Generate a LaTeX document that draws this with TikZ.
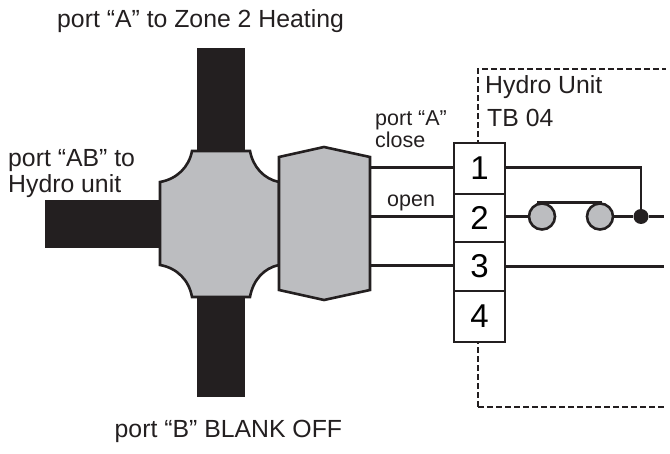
\documentclass[tikz,border=0pt]{standalone}
\usepackage{fontspec}
\setmainfont{Liberation Sans}
\definecolor{ink}{HTML}{231F20}
\definecolor{valve}{HTML}{BCBDC0}
\tikzset{
  arm/.style={fill=ink,draw=none},
  body/.style={fill=valve,draw=ink,line width=2.6pt,line join=miter},
  wire/.style={draw=ink,line width=2.8pt},
  frame/.style={draw=ink,line width=1.1pt,dash pattern=on 5.5pt off 3.5pt},
  cell/.style={draw=ink,line width=2.6pt,fill=white,minimum width=51pt,inner sep=0pt,font=\fontsize{33}{33}\selectfont},
  lab/.style={text=ink,anchor=base west,inner sep=0pt,font=\fontsize{24.8}{26}\selectfont},
  smalllab/.style={text=ink,anchor=base west,inner sep=0pt,font=\fontsize{21.5}{22}\selectfont},
  contact/.style={circle,fill=valve,draw=ink,line width=2.6pt,minimum size=26pt,inner sep=0pt},
  joint/.style={circle,fill=ink,draw=none,minimum size=15pt,inner sep=0pt}
}
\begin{document}
\begin{tikzpicture}[x=1pt,y=-1pt]
\useasboundingbox (0,0) rectangle (670,454);
% dashed frame
\draw[frame] (478,407) -- (478,69) -- (666,69);
\draw[frame] (478,407) -- (666,407);
% arms
\fill[arm] (197,48) rectangle (245,152);
\fill[arm] (197,296) rectangle (245,397);
\fill[arm] (45,200) rectangle (161,248);
% valve body
\draw[body] (192,151) -- (250,151) .. controls (253,167) and (264,179) .. (279,182)
  -- (279,265) .. controls (264,268) and (253,280) .. (250,297)
  -- (192,297) .. controls (189,280) and (177,268) .. (160,265)
  -- (160,182) .. controls (177,179) and (189,167) .. (192,151) -- cycle;
\draw[body] (279,157) -- (324,147) -- (370,157) -- (370,290) -- (324,300) -- (279,290) -- cycle;
% terminals
\node[cell,minimum height=51pt] (t1) at (479.5,168.5) {1};
\node[cell,minimum height=48pt] (t2) at (479.5,218) {2};
\node[cell,minimum height=49pt] (t3) at (479.5,266.5) {3};
\node[cell,minimum height=51pt] (t4) at (479.5,316.5) {4};
% right side
\node[contact] (c1) at (542,216.5) {};
\node[contact] (c2) at (600,216.5) {};
\node[joint] (j) at (641,216.5) {};
\coordinate (e2) at (664,216.5);
\coordinate (e3) at (664,266.5);
\coordinate (v1) at (370,167.5);
\coordinate (v2) at (370,216.5);
\coordinate (v3) at (370,265.5);
\draw[wire] (v1) -- (t1.west |- v1);
\draw[wire] (v2) -- (t2.west |- v2);
\draw[wire] (v3) -- (t3.west |- v3);
\draw[wire] (t1.east |- v1) -- (j |- v1) -- (j);
\draw[wire] (t2.east |- j) -- (c1);
\draw[wire] (c2) -- (j) -- (e2);
\draw[wire] (t3.east |- e3) -- (e3);
\draw[wire] (537,202.5) -- (602,202.5);
% labels
\node[lab] (l1) at (57,28) {port “A” to Zone 2 Heating};
\node[lab] (l2) at (8,167) {port “AB” to};
\node[lab] (l3) at (8,193) {Hydro unit};
\node[lab] (l4) at (114.5,438) {port “B” BLANK OFF};
\node[lab] (l5) at (485,94) {Hydro Unit};
\node[lab] (l6) at (487,127) {TB 04};
\node[smalllab] (l7) at (375,126) {port “A”};
\node[smalllab] (l8) at (375,148) {close};
\node[smalllab] (l9) at (387,207) {open};
\end{tikzpicture}
\end{document}
